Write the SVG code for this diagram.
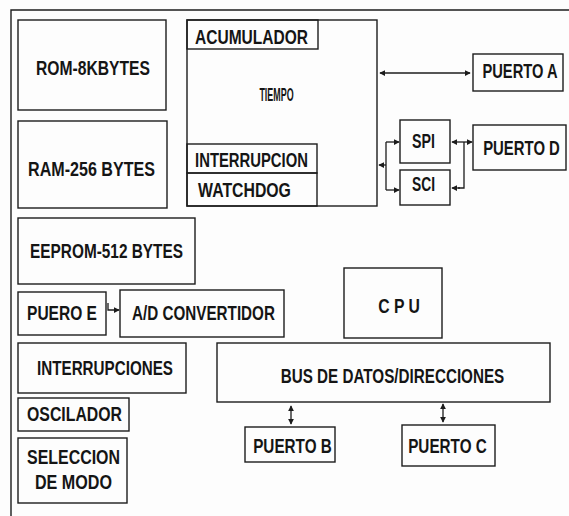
<svg xmlns="http://www.w3.org/2000/svg" width="569" height="516" viewBox="0 0 569 516">
<style>
.b{fill:none;stroke:#1c1c1c;stroke-width:1.4}
.t{font-family:"Liberation Sans",Arial,sans-serif;font-weight:bold;font-size:21px;fill:#151515;text-anchor:middle}
.c{fill:none;stroke:#1c1c1c;stroke-width:1.3}
</style>
<defs>
<marker id="ah" viewBox="0 0 8 8" refX="7" refY="4" markerWidth="6" markerHeight="6" orient="auto-start-reverse" markerUnits="userSpaceOnUse">
<path d="M0,0 L8,4 L0,8 z" fill="#1c1c1c"/>
</marker>
</defs>
<rect width="569" height="516" fill="#fdfdfd"/>
<path class="b" d="M11,516 V10 H569"/>

<g id="rom"><rect class="b" x="18" y="20" width="148" height="90"/><text class="t" transform="translate(93 75) scale(0.746 1)">ROM-8KBYTES</text></g>
<g id="ram"><rect class="b" x="18" y="121" width="149" height="87"/><text class="t" transform="translate(91.5 176) scale(0.766 1)">RAM-256 BYTES</text></g>
<g id="eeprom"><rect class="b" x="18" y="218" width="177" height="66"/><text class="t" transform="translate(106.5 258) scale(0.732 1)">EEPROM-512 BYTES</text></g>
<g id="puertoe"><rect class="b" x="18" y="292" width="88" height="43"/><text class="t" transform="translate(62 320) scale(0.741 1)">PUERO E</text></g>
<g id="ad"><rect class="b" x="120" y="290" width="164" height="47"/><text class="t" transform="translate(203.5 320) scale(0.725 1)">A/D CONVERTIDOR</text></g>
<g id="interrupciones"><rect class="b" x="18" y="343" width="168" height="50"/><text class="t" transform="translate(105 375) scale(0.724 1)">INTERRUPCIONES</text></g>
<g id="oscilador"><rect class="b" x="18" y="398" width="111" height="33"/><text class="t" transform="translate(74.5 421) scale(0.754 1)">OSCILADOR</text></g>
<g id="seleccion"><rect class="b" x="18" y="438" width="109" height="65"/><text class="t" transform="translate(73.5 464) scale(0.759 1)">SELECCION</text><text class="t" transform="translate(73.5 489) scale(0.768 1)">DE MODO</text></g>

<g id="tiempo"><rect class="b" x="187" y="20" width="190" height="186"/><text class="t" style="font-size:19px" transform="translate(276.5 101) scale(0.47 1)">TIEMPO</text></g>
<g id="acumulador"><rect class="b" x="187" y="20" width="131" height="29"/><text class="t" transform="translate(251.5 44) scale(0.74 1)">ACUMULADOR</text></g>
<g id="interrupcion"><rect class="b" x="187" y="144" width="130" height="29"/><text class="t" transform="translate(251.5 167) scale(0.707 1)">INTERRUPCION</text></g>
<g id="watchdog"><rect class="b" x="187" y="173" width="130" height="33"/><text class="t" transform="translate(244.5 197) scale(0.754 1)">WATCHDOG</text></g>

<g id="puertoa"><rect class="b" x="473" y="54" width="90" height="37"/><text class="t" transform="translate(520 78) scale(0.70 1)">PUERTO A</text></g>
<g id="spi"><rect class="b" x="400" y="120" width="50" height="43"/><text class="t" transform="translate(423.5 148) scale(0.679 1)">SPI</text></g>
<g id="sci"><rect class="b" x="400" y="170" width="50" height="35"/><text class="t" transform="translate(423.5 191) scale(0.657 1)">SCI</text></g>
<g id="puertod"><rect class="b" x="473" y="125" width="93" height="45"/><text class="t" transform="translate(521.5 155) scale(0.71 1)">PUERTO D</text></g>

<g id="cpu"><rect class="b" x="344" y="268" width="98" height="70"/><text class="t" transform="translate(399 313) scale(0.75 1)">C P U</text></g>
<g id="bus"><rect class="b" x="217" y="343" width="333" height="59"/><text class="t" transform="translate(392.5 383) scale(0.725 1)">BUS DE DATOS/DIRECCIONES</text></g>
<g id="puertob"><rect class="b" x="245" y="427" width="90" height="35"/><text class="t" transform="translate(292.5 453) scale(0.728 1)">PUERTO B</text></g>
<g id="puertoc"><rect class="b" x="402" y="425" width="93" height="41"/><text class="t" transform="translate(447.5 453) scale(0.728 1)">PUERTO C</text></g>

<g id="connectors">
<line class="c" x1="380" y1="73" x2="470" y2="73" marker-start="url(#ah)" marker-end="url(#ah)"/>
<path class="c" d="M386,142 V190"/>
<line class="c" x1="386" y1="142" x2="399" y2="142" marker-end="url(#ah)"/>
<line class="c" x1="386" y1="190" x2="399" y2="190" marker-end="url(#ah)"/>
<line class="c" x1="386" y1="165" x2="379" y2="165" marker-end="url(#ah)"/>
<line class="c" x1="452" y1="142" x2="472" y2="142" marker-start="url(#ah)" marker-end="url(#ah)"/>
<path class="c" d="M464,142 V188 H458"/>
<line class="c" x1="460" y1="188" x2="452" y2="188" marker-end="url(#ah)"/>
<path class="c" d="M108,303 V310 H119" marker-end="url(#ah)"/>
<line class="c" x1="291" y1="406" x2="291" y2="424" marker-start="url(#ah)" marker-end="url(#ah)"/>
<line class="c" x1="443" y1="404" x2="443" y2="422" marker-start="url(#ah)" marker-end="url(#ah)"/>
</g>
</svg>
